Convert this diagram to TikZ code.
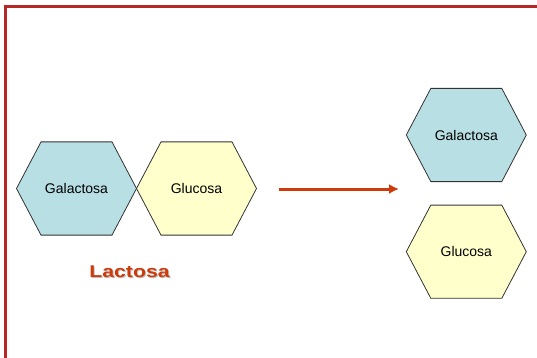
\documentclass[tikz,border=0pt]{standalone}
\usepackage{fontspec}
\setmainfont{Liberation Sans}
\usetikzlibrary{arrows.meta,calc,positioning}

\definecolor{framered}{RGB}{180,40,40}
\definecolor{reactred}{RGB}{206,58,10}
\definecolor{galblue}{RGB}{184,223,228}
\definecolor{gluyellow}{RGB}{255,255,204}

\tikzset{
  hexline/.style={draw=black!80,line width=0.8pt},
  sugarlabel/.style={font=\fontsize{14}{16}\selectfont,inner sep=0pt},
  titlelabel/.style={anchor=base,inner sep=0pt,xscale=1.25,
    font=\fontsize{17}{20}\selectfont\bfseries},
}

% hexagon with a label: name, centre, fill, text
\newcommand{\sugarhex}[4]{%
  \draw[hexline,fill=#3] (#2) ++(-60,0) -- ++(24.5,-46.6) -- ++(71,0)
    -- ++(24.5,46.6) -- ++(-24.5,46.6) -- ++(-71,0) -- cycle;
  \node[sugarlabel] (#1) at (#2) {#4};
}

\begin{document}
\begin{tikzpicture}[>=Latex,x=1pt,y=-1pt]
    \useasboundingbox (0,0) rectangle (537,358);
    \draw[framered,line width=2.5pt] (5.5,365) |- (545,6.3);

    % lactose
    \sugarhex{galL}{76.5,188.5}{galblue}{Galactosa}
    \sugarhex{gluL}{196.5,188.5}{gluyellow}{Glucosa}
    \node[titlelabel,text=black!25] (lactosashadow) at (130.5,278.3) {Lactosa};
    \node[titlelabel,text=reactred] (lactosa) at (129.5,277.3) {Lactosa};

    % products
    \sugarhex{galR}{466.3,135}{galblue}{Galactosa}
    \sugarhex{gluR}{466.3,251.7}{gluyellow}{Glucosa}

    \coordinate (from) at (279,189);
    \coordinate (to) at (399,189);
    \draw[-{Latex[length=10pt,width=10pt]},draw=reactred,fill=reactred,line width=3pt] (from) -- (to);
\end{tikzpicture}
\end{document}
